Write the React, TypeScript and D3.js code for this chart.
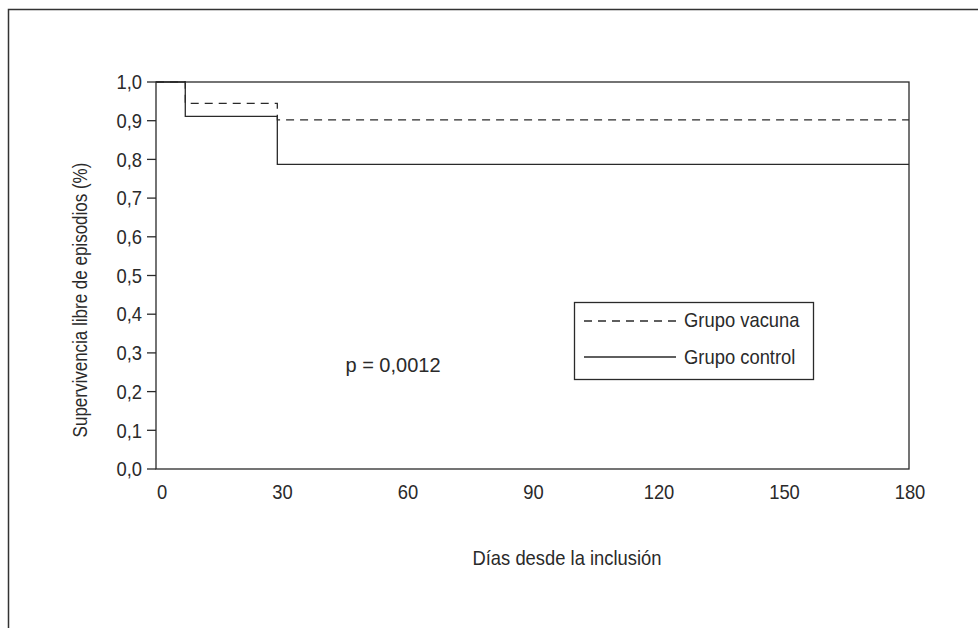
import React from 'react'
import * as d3 from 'd3'

// survival curves: [day, survival]
const vacuna: [number, number][] = [[0, 1.0], [7, 0.945], [29, 0.902], [180, 0.902]]
const control: [number, number][] = [[0, 1.0], [7, 0.911], [29, 0.787], [180, 0.787]]
const xTicks = [0, 30, 60, 90, 120, 150, 180]
const yTicks = [0, 0.1, 0.2, 0.3, 0.4, 0.5, 0.6, 0.7, 0.8, 0.9, 1.0]
const legendItems = [
  { label: 'Grupo vacuna', dash: '8,6' },
  { label: 'Grupo control', dash: null }
]

const W = 978
const H = 628
const left = 156
const right = 909
const top = 82
const bottom = 469
const font = '"Liberation Sans", Arial, sans-serif'
const ink = '#2a2a2a'

// condensed text: Liberation Sans squeezed horizontally
const T = ({ x, y, anchor = 'start', rotate = 0, dy, sx = 0.92, children }: any) => (
  <text transform={`translate(${x},${y}) rotate(${rotate}) scale(${sx},1)`}
    textAnchor={anchor} dy={dy} fontSize={20}>{children}</text>
)

export default function App () {
  const x = d3.scaleLinear().domain([0, 180]).range([left, right])
  const y = d3.scaleLinear().domain([0, 1]).range([bottom, top])
  const line = d3.line<[number, number]>()
    .x(d => x(d[0]))
    .y(d => y(d[1]))
    .curve(d3.curveStepAfter)
  const fmt = (v: number) => v.toFixed(1).replace('.', ',')

  return (
    <svg width={W} height={H} style={{ position: 'absolute', left: 0, top: 0, background: '#fff' }}
      fontFamily={font} fill={ink}>
      {/* outer frame */}
      <rect x={8.5} y={9.5} width={1000} height={700} fill="none" stroke="#333" strokeWidth={1.5} />

      {/* plot box */}
      <rect x={left} y={top} width={right - left} height={bottom - top} fill="none" stroke={ink} strokeWidth={1.3} />

      {yTicks.map(t => (
        <g key={t}>
          <line x1={left - 9} x2={left} y1={y(t)} y2={y(t)} stroke={ink} strokeWidth={1.3} />
          <T x={142} y={y(t)} anchor="end" dy="0.36em">{fmt(t)}</T>
        </g>
      ))}
      {xTicks.map(t => (
        <T key={t} x={x(t) + (t === 0 ? 6 : 1)} y={499} anchor="middle">{t}</T>
      ))}

      <path d={line(vacuna) || ''} fill="none" stroke={ink} strokeWidth={1.3} strokeDasharray="8,6" />
      <path d={line(control) || ''} fill="none" stroke={ink} strokeWidth={1.3} />

      <T x={567} y={565} anchor="middle">Días desde la inclusión</T>
      <T x={80} y={300} anchor="middle" rotate={-90} dy="0.36em" sx={0.85}>Supervivencia libre de episodios (%)</T>
      <T x={393} y={372} anchor="middle" sx={1.0}>p = 0,0012</T>

      {/* legend */}
      <rect x={574.5} y={302.5} width={239} height={77} fill="none" stroke={ink} strokeWidth={1.3} />
      {legendItems.map((d, i) => (
        <g key={d.label}>
          <line x1={584} x2={676} y1={321 + i * 36} y2={321 + i * 36} stroke={ink} strokeWidth={1.3}
            strokeDasharray={d.dash || undefined} />
          <T x={684} y={327 + i * 37}>{d.label}</T>
        </g>
      ))}
    </svg>
  )
}
